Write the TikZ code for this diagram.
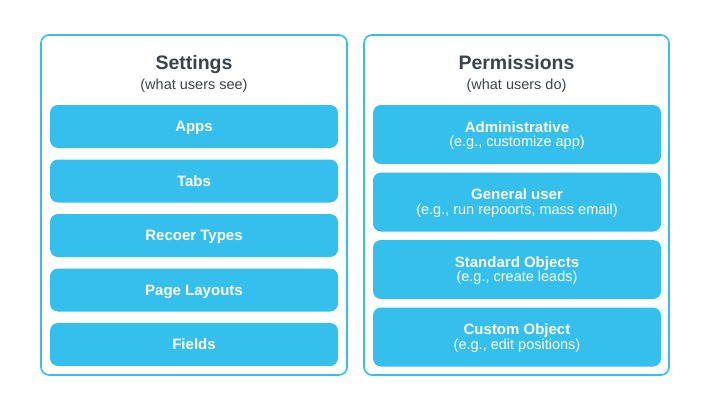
\documentclass[tikz,border=0pt]{standalone}
\usepackage{fontspec}
\setmainfont{Liberation Sans}
\definecolor{sky}{HTML}{35BFEC}
\definecolor{ink}{HTML}{3D4449}
\begin{document}
\begin{tikzpicture}[x=1pt,y=-1pt,
  panel/.style={draw=sky,line width=1.6pt,rounded corners=8pt},
  item/.style={fill=sky,rounded corners=8pt,inner sep=0pt,minimum width=288pt},
  lbl/.style={text=white,inner sep=0pt,anchor=base,font=\fontsize{15}{17}\selectfont\bfseries},
  note/.style={text=white,inner sep=0pt,anchor=base,font=\fontsize{14.5}{16}\selectfont},
  ttl/.style={text=ink,font=\fontsize{19.5}{22}\selectfont\bfseries,inner sep=0pt,anchor=base},
  sub/.style={text=ink,font=\fontsize{14.5}{17}\selectfont,inner sep=0pt,anchor=base}]
\useasboundingbox (0,0) rectangle (701,412);
\fill[white] (0,0) rectangle (701,412);
% panels
\draw[panel] (41,35) rectangle (347,375);
\draw[panel] (364,35) rectangle (669,375);
\node[ttl] (t1) at (194,70) {Settings};
\node[sub] (s1) at (194,89) {(what users see)};
\node[ttl] (t2) at (516.5,70) {Permissions};
\node[sub] (s2) at (516.5,89) {(what users do)};
% left items
\foreach \n/\y/\t in {a/126.5/Apps, b/181/Tabs, c/235.5/Recoer Types, d/290/Page Layouts, e/344.5/Fields}{
  \node[item,minimum height=43pt] (\n) at (194,\y) {};
  \node[lbl] (\n l) at ([yshift=-5.4pt]\n.center) {\t};
}
% right items
\foreach \n/\y/\t/\s in {p1/134.5/Administrative/{(e.g., customize app)},
    p2/202/General user/{(e.g., run repoorts, mass email)},
    p3/269.5/Standard Objects/{(e.g., create leads)},
    p4/337/Custom Object/{(e.g., edit positions)}}{
  \node[item,minimum height=59pt] (\n) at (517,\y) {};
  \node[lbl] (\n l) at ([yshift=2.5pt]\n.center) {\t};
  \node[note] (\n s) at ([yshift=-12pt]\n.center) {\s};
}
\end{tikzpicture}
\end{document}
